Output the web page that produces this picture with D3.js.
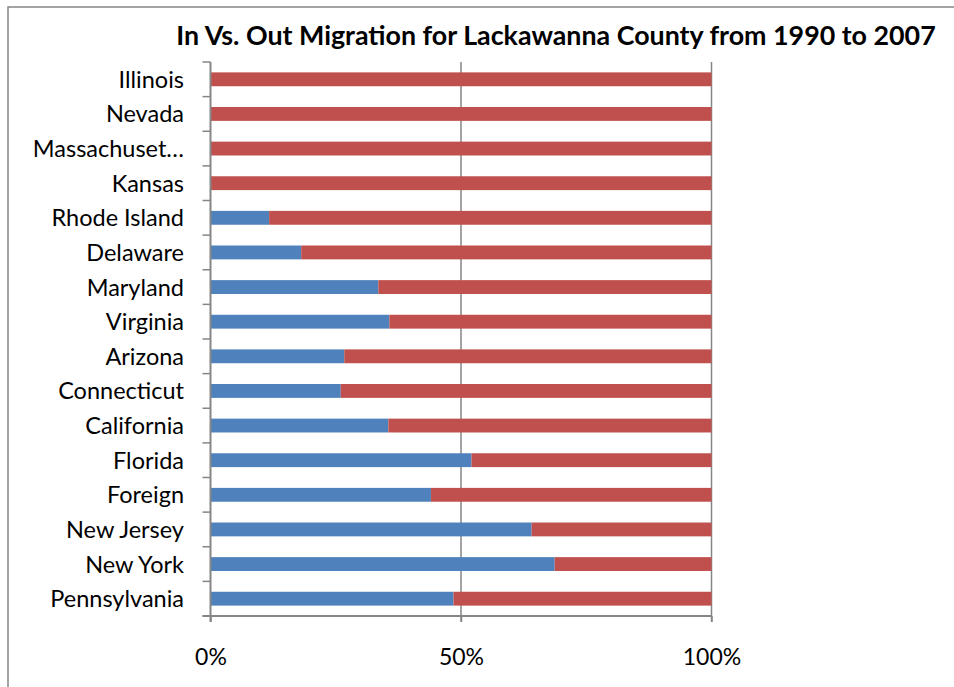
<!DOCTYPE html>
<html>
<head>
<meta charset="utf-8">
<script src="https://cdn.jsdelivr.net/npm/d3@7"></script>
<style>
  html, body { margin: 0; padding: 0; background: #fff; }
  svg { display: block; }
  text { font-family: Lato, "Open Sans", "DejaVu Sans", sans-serif; fill: #000; }
</style>
</head>
<body>
<svg id="chart" width="954" height="687"></svg>
<script>
// ---- Data (top to bottom as shown) ----
const categories = ["Illinois", "Nevada", "Massachuset\u2026", "Kansas", "Rhode Island", "Delaware",
  "Maryland", "Virginia", "Arizona", "Connecticut", "California", "Florida", "Foreign",
  "New Jersey", "New York", "Pennsylvania"];
const inShare  = [0, 0, 0, 0, 11.7, 18.1, 33.5, 35.7, 26.7, 26.0, 35.5, 52.1, 44.0, 64.1, 68.7, 48.5];
const outShare = [100, 100, 100, 100, 88.3, 81.9, 66.5, 64.3, 73.3, 74.0, 64.5, 47.9, 56.0, 35.9, 31.3, 51.5];
const xTicks = [0, 0.5, 1];
const title = "In Vs. Out Migration for Lackawanna County from 1990 to 2007";

const svg = d3.select("#chart");
const W = 954, H = 687;
const plot = { left: 210.5, right: 711.5, top: 62, bottom: 616 };

// outer frame
svg.append("rect").attr("x", 8).attr("y", 7).attr("width", W + 10).attr("height", H + 10)
  .attr("fill", "none").attr("stroke", "#878787").attr("stroke-width", 1.5);

// title
svg.append("text").attr("x", 556).attr("y", 45).attr("text-anchor", "middle")
  .style("font-size", "26.8px").style("font-weight", "bold").text(title);

const rows = categories.map((c, i) => ({ cat: c, inV: inShare[i], outV: outShare[i] }));
const stack = d3.stack().keys(["inV", "outV"]).offset(d3.stackOffsetExpand);
const series = stack(rows);

const x = d3.scaleLinear().domain([0, 1]).range([plot.left, plot.right]);
const y = d3.scaleBand().domain(categories).range([plot.top, plot.bottom])
  .paddingInner(0.6).paddingOuter(0.3);
const colors = { inV: "#4F81BD", outV: "#C0504D" };

// gridlines
svg.append("g").selectAll("line").data(xTicks.filter(d => d > 0)).join("line")
  .attr("x1", d => x(d)).attr("x2", d => x(d))
  .attr("y1", plot.top).attr("y2", plot.bottom + 6)
  .attr("stroke", "#868686").attr("stroke-width", 1.5);

// bars
svg.append("g").selectAll("g").data(series).join("g")
  .attr("fill", d => colors[d.key])
  .selectAll("rect").data(d => d).join("rect")
  .attr("x", d => x(d[0]))
  .attr("width", d => Math.max(0, x(d[1]) - x(d[0])))
  .attr("y", d => y(d.data.cat))
  .attr("height", y.bandwidth());

// left axis line and boundary ticks
const step = y.step();
const boundaries = d3.range(categories.length + 1).map(i => plot.top + i * step);
svg.append("line").attr("x1", plot.left).attr("x2", plot.left)
  .attr("y1", plot.top).attr("y2", plot.bottom + 6)
  .attr("stroke", "#868686").attr("stroke-width", 2);
svg.append("g").selectAll("line").data(boundaries).join("line")
  .attr("x1", plot.left - 8).attr("x2", plot.left)
  .attr("y1", d => d).attr("y2", d => d)
  .attr("stroke", "#868686").attr("stroke-width", 1.5);

// category labels
svg.append("g").selectAll("text").data(categories).join("text")
  .attr("x", 184).attr("y", d => y(d) + y.bandwidth() / 2)
  .attr("dy", "0.36em").attr("text-anchor", "end")
  .style("font-size", "23.5px").text(d => d);

// bottom axis
const xAxis = d3.axisBottom(x).tickValues(xTicks).tickFormat(d3.format(".0%"))
  .tickSize(6).tickSizeOuter(0);
const gx = svg.append("g").attr("transform", `translate(0,${plot.bottom})`).call(xAxis);
gx.select(".domain").attr("stroke", "#868686").attr("stroke-width", 2)
  .attr("d", `M${plot.left - 8},0H${plot.right}`);
gx.selectAll(".tick line").attr("stroke", "#868686").attr("stroke-width", 1.5);
gx.selectAll(".tick text").attr("y", 49).attr("dy", null)
  .style("font-size", "23px").style("font-family", "Lato, 'Open Sans', sans-serif").attr("fill", "#000");
</script>
</body>
</html>
